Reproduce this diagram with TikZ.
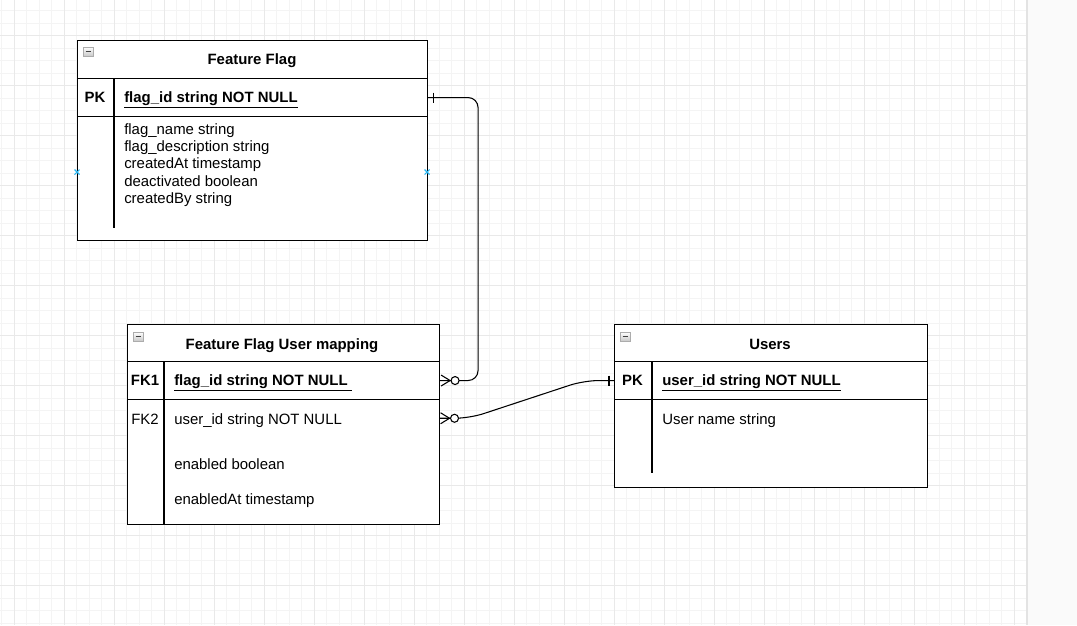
\documentclass[tikz,border=0pt]{standalone}
\usepackage{fontspec}
\setmainfont{Liberation Sans}
\usetikzlibrary{calc}
\begin{document}
\begin{tikzpicture}[x=0.75pt,y=-0.75pt,
  font=\fontsize{11.2}{13}\selectfont,
  cell/.style={draw=black, line width=0.8pt, rectangle, inner sep=0pt, anchor=north west},
  ghost/.style={draw=none, rectangle, inner sep=0pt, anchor=north west},
  ttl/.style={font=\fontsize{11.2}{13}\selectfont\bfseries, inner sep=0pt, text height=8pt, text depth=0pt},
  keyf/.style={font=\fontsize{11.2}{13}\selectfont\bfseries, inner sep=0pt, text height=8pt, text depth=0pt},
  fld/.style={anchor=west, inner sep=0pt, text height=8pt, text depth=0pt},
  conn/.style={draw=black, line width=0.8pt},
  minorgrid/.style={draw=gray!9, line width=0.75pt},
  majorgrid/.style={draw=gray!17, line width=0.75pt},
  xmk/.style={draw={rgb,255:red,41;green,182;blue,242}, line width=0.8pt},
  colbox/.pic={
    \draw[draw=gray!65, top color=white, bottom color=gray!45] (0,0) rectangle (10.5,9.5);
    \draw[line width=1.1pt, black!75] (2.5,4.75) -- (8,4.75);
  }]
\useasboundingbox (0,0) rectangle (1077,625);
\fill[white] (0,0) rectangle (1077,625);
% grid
\foreach \i in {0,...,81} {\pgfmathsetmacro\xx{1.8+12.5*\i}\draw[minorgrid] (\xx,0) -- (\xx,625);}
\foreach \i in {0,...,49} {\pgfmathsetmacro\yy{10.5+12.5*\i}\draw[minorgrid] (0,\yy) -- (1027,\yy);}
\foreach \i in {0,...,20} {\pgfmathsetmacro\xx{14.3+50*\i}\draw[majorgrid] (\xx,0) -- (\xx,625);}
\foreach \i in {0,...,11} {\pgfmathsetmacro\yy{35.5+50*\i}\draw[majorgrid] (0,\yy) -- (1027,\yy);}
\fill[gray!4] (1027,0) rectangle (1077,625);
\draw[gray!22, line width=0.8pt] (1027,0) -- (1027,625);

% ---------- Feature Flag ----------
\node[cell, fill=white, minimum width=262.5pt, minimum height=28.5pt] (ffh) at (77,40) {};
\node[cell, fill=white, minimum width=262.5pt, minimum height=28.5pt] (ffpk) at (77,78) {};
\node[cell, fill=white, minimum width=262.5pt, minimum height=93pt] (ffb) at (77,116) {};
\draw[conn] (114,78) -- (114,228);
\pic at (83,47) {colbox};
\node[ttl] (ffht) at (252,59) {Feature Flag};
\node[keyf] (ffpkl) at (95,97) {PK};
\node[keyf, anchor=west] (ffpkt) at (124,97) {\underline{flag\_id string NOT NULL}};
\node[fld] (ff1) at (124,129) {flag\_name string};
\node[fld] (ff2) at (124,146.3) {flag\_description string};
\node[fld] (ff3) at (124,163.6) {createdAt timestamp};
\node[fld] (ff4) at (124,180.9) {deactivated boolean};
\node[fld] (ff5) at (124,198.2) {createdBy string};
\draw[xmk] (74.5,169.5) -- (79.5,174.5) (74.5,174.5) -- (79.5,169.5);
\draw[xmk] (424.5,169.5) -- (429.5,174.5) (424.5,174.5) -- (429.5,169.5);

% ---------- Feature Flag User mapping ----------
\node[cell, fill=white, minimum width=234pt, minimum height=27.75pt] (mh) at (127,324) {};
\node[cell, fill=white, minimum width=234pt, minimum height=28.5pt] (fk1) at (127,361) {};
\node[cell, fill=white, minimum width=234pt, minimum height=93.75pt] (mb) at (127,399) {};
\node[ghost, minimum width=234pt, minimum height=28.5pt] (fk2row) at (127,399) {};
\draw[conn] (164,361) -- (164,524);
\pic at (133,332) {colbox};
\node[ttl] (mht) at (282,344) {Feature Flag User mapping};
\node[keyf] (fk1l) at (145,380) {FK1};
\node[keyf, anchor=west] (fk1t) at (174,380) {\underline{flag\_id string NOT NULL\ }};
\node[inner sep=0pt, text height=8pt, text depth=0pt] (fk2l) at (145,419) {FK2};
\node[fld] (fk2t) at (174,419) {user\_id string NOT NULL};
\node[fld] (m3) at (174,464) {enabled boolean};
\node[fld] (m4) at (174,499) {enabledAt timestamp};

% ---------- Users ----------
\node[cell, fill=white, minimum width=234.75pt, minimum height=27.75pt] (uh) at (614,324) {};
\node[cell, fill=white, minimum width=234.75pt, minimum height=28.5pt] (upk) at (614,361) {};
\node[cell, fill=white, minimum width=234.75pt, minimum height=66pt] (ub) at (614,399) {};
\draw[conn] (652,361) -- (652,473);
\pic at (620,332) {colbox};
\node[ttl] (uht) at (770,344) {Users};
\node[keyf] (upkl) at (632.5,380) {PK};
\node[keyf, anchor=west] (upkt) at (662,380) {\underline{user\_id string NOT NULL}};
\node[fld] (u1) at (662,419) {User name string};

% ---------- connectors ----------
\draw[conn, rounded corners=7.5pt] (ffpk.east) -- ++(50,0) |- (fk1.east);
\draw[conn] ($(ffpk.east)+(5,-5)$) -- ++(0,10);
\draw[conn] ($(fk1.east)+(1,-5.5)$) -- ($(fk1.east)+(10,0)$) -- ($(fk1.east)+(1,5.5)$);
\draw[conn, fill=white] ($(fk1.east)+(15,0)$) circle[radius=3pt];

\draw[conn, rounded corners=11pt] (upk.west) -- ++(-30,0) -- ($(fk2row.east)+(30,0)$) -- (fk2row.east);
\draw[conn] ($(upk.west)+(-5,-5)$) -- ++(0,10);
\draw[conn] ($(fk2row.east)+(1,-5.5)$) -- ($(fk2row.east)+(10,0)$) -- ($(fk2row.east)+(1,5.5)$);
\draw[conn, fill=white] ($(fk2row.east)+(15,0)$) circle[radius=3pt];
\end{tikzpicture}
\end{document}
